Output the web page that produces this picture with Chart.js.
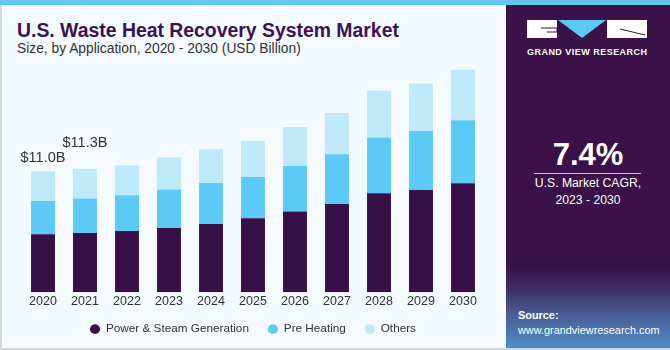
<!DOCTYPE html>
<html>
<head>
<meta charset="utf-8">
<script src="https://cdn.jsdelivr.net/npm/chart.js@4"></script>
<style>
  html, body { margin:0; padding:0; }
  body { width:670px; height:350px; position:relative; overflow:hidden; background:#f4f9fd; font-family:"Liberation Sans", Arial, sans-serif; }
  #stripe { position:absolute; left:0; top:0; width:670px; height:5px; background:#62c6ee; }
  #lborder { position:absolute; left:0; top:5px; width:2px; height:345px; background:#d4d7da; }
  #bborder { position:absolute; left:0; top:348px; width:670px; height:2px; background:#d4d7da; }
  #title { position:absolute; left:17px; top:19px; font-size:19.4px; font-weight:bold; color:#3a1450; white-space:nowrap; }
  #subtitle { position:absolute; left:17px; top:41px; font-size:13.8px; color:#333; white-space:nowrap; }
  #panel { position:absolute; left:506px; top:5px; width:164px; height:343px;
    background: linear-gradient(to bottom, #3a1148 0%, #3a1148 76%, #3e2a62 82%, #4a5c93 90%, #4e8fc6 100%); }
  #chartwrap { position:absolute; left:2px; top:60px; width:504px; height:296px; }
  .logo { position:absolute; overflow:visible; }
  #big { position:absolute; left:506px; width:164px; top:137px; text-align:center; color:#fff; font-weight:bold; font-size:31px; }
  #hline { position:absolute; left:534px; top:173px; width:107px; height:1px; background:#c9bfd6; }
  #cagr { position:absolute; left:506px; width:164px; top:175px; text-align:center; color:#fff; font-size:12.2px; line-height:17px; }
  #src { position:absolute; left:518px; top:308px; color:#fff; font-size:10.9px; line-height:15px; }
</style>
</head>
<body>
<div id="stripe"></div>
<div id="lborder"></div>
<div id="panel"></div>
<div id="title">U.S. Waste Heat Recovery System Market</div>
<div id="subtitle">Size, by Application, 2020 - 2030 (USD Billion)</div>

<svg class="logo" style="left:527px;top:20px" width="121" height="40" viewBox="0 0 121 40">
  <rect x="0" y="0" width="30" height="18" fill="#fff"/>
  <path d="M14 8 L30 8 L30 12 L20 12" fill="none" stroke="#3a1148" stroke-width="1"/>
  <polygon points="31,0 79,0 55,18" fill="#5bc8f5"/>
  <rect x="80" y="0" width="40" height="18" fill="#fff"/>
  <path d="M93 9 L118 15" stroke="#3a1148" stroke-width="1"/>
  <text x="0" y="35" textLength="120" lengthAdjust="spacing" fill="#fff" font-family="Liberation Sans, Arial" font-weight="bold" font-size="9">GRAND VIEW RESEARCH</text>
</svg>

<div id="big">7.4%</div>
<div id="hline"></div>
<div id="cagr">U.S. Market CAGR,<br>2023 - 2030</div>
<div id="src"><b>Source:</b><br>www.grandviewresearch.com</div>

<div id="chartwrap"><canvas id="c"></canvas></div>
<div id="bborder"></div>

<script>
const categories = ["2020","2021","2022","2023","2024","2025","2026","2027","2028","2029","2030"];
const powerSteam = [5.29, 5.41, 5.59, 5.86, 6.23, 6.75, 7.36, 8.05, 9.02, 9.33, 9.94];
const preHeating = [3.04, 3.14, 3.25, 3.50, 3.74, 3.76, 4.16, 4.53, 5.10, 5.38, 5.74];
const others     = [2.68, 2.70, 2.73, 2.92, 3.07, 3.28, 3.56, 3.76, 4.28, 4.32, 4.62];
const seriesNames = ["Power & Steam Generation", "Pre Heating", "Others"];
const valueLabels = ["$11.0B", "$11.3B"];
const labelOffsets = [14, 26];

const labelPlugin = {
  id: 'totals',
  afterDatasetsDraw(chart) {
    const ctx = chart.ctx;
    const xs = chart.scales.x, ys = chart.scales.y;
    ctx.save();
    ctx.font = '14.5px "Liberation Sans", Arial, sans-serif';
    ctx.fillStyle = '#333';
    ctx.textAlign = 'center';
    ctx.textBaseline = 'middle';
    valueLabels.forEach((t, i) => {
      const total = powerSteam[i] + preHeating[i] + others[i];
      ctx.fillText(t, xs.getPixelForValue(i), ys.getPixelForValue(total) - labelOffsets[i]);
    });
    ctx.restore();
  }
};

const legendShift = {
  id: 'legendShift',
  afterLayout(chart) {
    const l = chart.legend;
    if (l) { l.top -= 7; l.bottom -= 7; }
  }
};

new Chart(document.getElementById('c'), {
  type: 'bar',
  data: {
    labels: categories,
    datasets: [
      { label: seriesNames[0], data: powerSteam, backgroundColor: '#371047' },
      { label: seriesNames[1], data: preHeating, backgroundColor: '#5bcaf7' },
      { label: seriesNames[2], data: others, backgroundColor: '#bde9f9' }
    ]
  },
  options: {
    responsive: true,
    maintainAspectRatio: false,
    animation: false,
    devicePixelRatio: 1,
    layout: { padding: { left: 20, right: 22, top: 2, bottom: 4 } },
    datasets: { bar: { categoryPercentage: 1, barPercentage: 0.57, borderWidth: 0 } },
    scales: {
      x: {
        stacked: true,
        grid: { display: false, drawTicks: false },
        border: { display: false },
        ticks: { color: '#333', font: { size: 12.5, family: '"Liberation Sans", Arial, sans-serif' }, padding: 2 }
      },
      y: {
        stacked: true, display: false, min: 0, max: 21
      }
    },
    plugins: {
      legend: {
        position: 'bottom',
        labels: {
          usePointStyle: true, pointStyle: 'circle', pointStyleWidth: 10, boxHeight: 7,
          color: '#333', padding: 19,
          font: { size: 11.75, family: '"Liberation Sans", Arial, sans-serif' }
        }
      },
      tooltip: { enabled: false }
    }
  },
  plugins: [labelPlugin, legendShift]
});
</script>
</body>
</html>
